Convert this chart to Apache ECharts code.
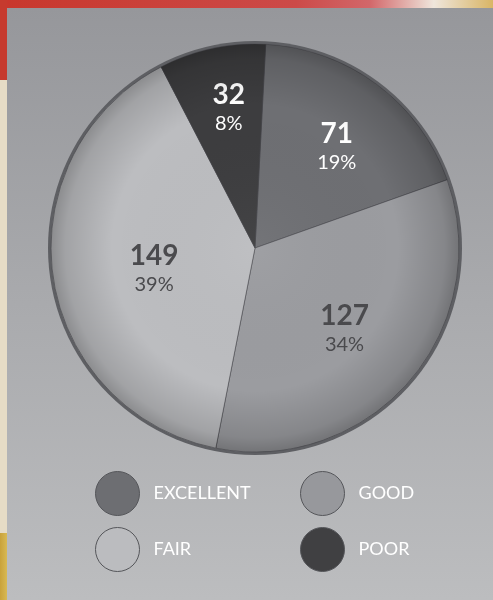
<!DOCTYPE html>
<html>
<head>
<meta charset="utf-8">
<script src="https://cdn.jsdelivr.net/npm/echarts@6/dist/echarts.min.js"></script>
<style>
html,body{margin:0;padding:0;background:#bbbcbf;}
#chart{width:493px;height:600px;}
</style>
</head>
<body>
<div id="chart"></div>
<script>
// ---- data ----
var categories = ['EXCELLENT', 'GOOD', 'FAIR', 'POOR'];
var counts = [71, 127, 149, 32];

// ---- styles ----
var sliceColors = ['#6e6f73', '#9b9ca0', '#bcbdc0', '#3d3d3f'];
var legendColors = ['#6d6e72', '#97989c', '#bbbcbf', '#404042'];
var labelColors = ['#ffffff', '#4a4a4d', '#4a4a4d', '#ffffff'];
var labelShift = [[19, -17], [10, 12], [3, 6], [-4, -37]];
var legendPos = [[95, 471], [300, 471], [95, 527], [300, 527]];

var CX = 255, CY = 248, R = 204;

var chart = echarts.init(document.getElementById('chart'), null, {renderer: 'canvas'});

var pieData = categories.map(function (name, i) {
  return {
    name: name,
    value: counts[i],
    itemStyle: {color: sliceColors[i]},
    label: {color: labelColors[i], rich: {
      v: {fontSize: 28, fontWeight: 'bold', fontFamily: 'Lato', color: labelColors[i], lineHeight: 31},
      p: {fontSize: 20, fontFamily: 'Lato', color: labelColors[i], lineHeight: 26}
    }}
  };
});

var legends = categories.map(function (name, i) {
  return {
    left: legendPos[i][0], top: legendPos[i][1], padding: 0,
    itemWidth: 44, itemHeight: 44, icon: 'circle', selectedMode: false,
    textStyle: {color: '#ffffff', fontSize: 18, fontFamily: 'Lato', padding: [0, 0, 0, 9]},
    data: [{
      name: name,
      itemStyle: {color: legendColors[i], borderColor: '#55565a', borderWidth: 1}
    }]
  };
});

var option = {
  animation: false,
  graphic: [
    // outer page decoration
    {type: 'rect', z: -10, shape: {x: 0, y: 0, width: 493, height: 600}, style: {fill: '#bbbcbf'}},
    {type: 'rect', z: -9, shape: {x: 0, y: 0, width: 493, height: 8},
      style: {fill: new echarts.graphic.LinearGradient(0, 0, 1, 0, [
        {offset: 0, color: '#c8372c'}, {offset: 0.6, color: '#cc4a48'}, {offset: 0.75, color: '#d2676a'},
        {offset: 0.88, color: '#efe6dc'}, {offset: 1, color: '#d9b565'}])}},
    {type: 'rect', z: -9, shape: {x: 0, y: 0, width: 7, height: 80}, style: {fill: '#c63a2e'}},
    {type: 'rect', z: -9, shape: {x: 0, y: 80, width: 7, height: 453}, style: {fill: '#e6dcc6'}},
    {type: 'rect', z: -9, shape: {x: 0, y: 533, width: 7, height: 67},
      style: {fill: new echarts.graphic.LinearGradient(0, 0, 1, 0, [
        {offset: 0, color: '#c9a23a'}, {offset: 1, color: '#d8b953'}])}},
    // panel
    {type: 'rect', z: -8, shape: {x: 7, y: 8, width: 486, height: 592},
      style: {fill: new echarts.graphic.LinearGradient(0, 0, 0, 1, [
        {offset: 0, color: '#96979b'}, {offset: 1, color: '#bcbdbf'}])}},
    // rim
    {type: 'circle', z: -5, shape: {cx: CX, cy: CY, r: R + 3}, style: {fill: '#5e5f63'}},
    // edge shading over slices
    {type: 'circle', z: 50, silent: true, shape: {cx: CX, cy: CY, r: R},
      style: {fill: new echarts.graphic.RadialGradient(0.5, 0.5, 0.5, [
        {offset: 0, color: 'rgba(255,255,255,0.04)'},
        {offset: 0.7, color: 'rgba(0,0,0,0)'},
        {offset: 0.93, color: 'rgba(0,0,0,0.14)'},
        {offset: 1, color: 'rgba(0,0,0,0.26)'}])}}
  ],
  legend: legends,
  series: [{
    type: 'pie',
    center: [CX, CY],
    radius: [0, R],
    startAngle: 87,
    clockwise: true,
    silent: true,
    itemStyle: {borderColor: 'rgba(70,70,74,0.55)', borderWidth: 1},
    label: {
      show: true,
      position: 'inside',
      formatter: function (p) { return '{v|' + p.value + '}\n{p|' + Math.round(p.percent) + '%}'; }
    },
    labelLine: {show: false},
    labelLayout: function (params) {
      var s = labelShift[params.dataIndex];
      return {dx: s[0], dy: s[1]};
    },
    data: pieData
  }]
};
chart.setOption(option);
</script>
</body>
</html>
